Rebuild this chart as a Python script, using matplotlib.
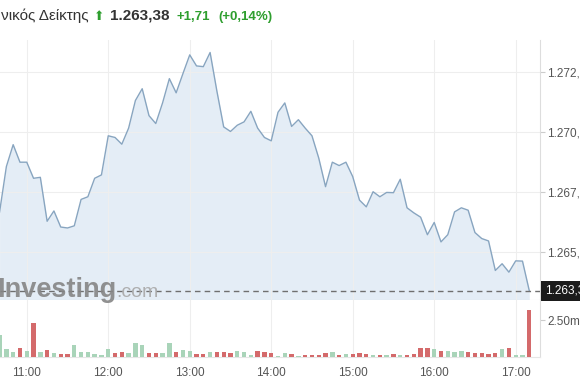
import matplotlib
matplotlib.use("Agg")
import matplotlib.pyplot as plt
import pandas as pd

plt.rcParams["font.family"] = ["Liberation Sans", "DejaVu Sans"]

# 5-minute bars, 10:40 .. 17:10
times = pd.date_range("2024-01-01 10:40", "2024-01-01 17:10", freq="5min")
prices = [1266.66, 1268.55, 1269.46, 1268.73, 1268.73, 1268.06, 1268.10, 1266.27,
          1266.70, 1266.03, 1265.99, 1266.08, 1267.18, 1267.29, 1268.06, 1268.20,
          1269.83, 1269.76, 1269.48, 1270.15, 1271.30, 1271.79, 1270.67, 1270.34,
          1271.20, 1272.21, 1271.62, 1272.42, 1273.20, 1272.74, 1272.71, 1273.30,
          1271.69, 1270.20, 1270.01, 1270.27, 1270.41, 1270.85, 1270.15, 1269.76,
          1269.62, 1270.81, 1271.20, 1270.22, 1270.50, 1270.15, 1269.83, 1268.90,
          1267.71, 1268.73, 1268.59, 1268.73, 1268.13, 1267.15, 1266.87, 1267.50,
          1267.29, 1267.47, 1267.46, 1268.02, 1266.83, 1266.62, 1266.44, 1265.71,
          1266.22, 1265.41, 1265.71, 1266.66, 1266.83, 1266.73, 1265.80, 1265.55,
          1265.45, 1264.22, 1264.50, 1264.15, 1264.62, 1264.61, 1263.38]
volumes = [1.48, 0.57, 0.34, 0.64, 0.41, 2.34, 0.34, 0.50, 0.30, 0.18, 0.23, 0.84,
           0.32, 0.34, 0.23, 0.16, 0.57, 0.27, 0.32, 0.30, 0.98, 0.84, 0.30, 0.30,
           0.30, 0.98, 0.34, 0.50, 0.41, 0.18, 0.23, 0.34, 0.34, 0.34, 0.30, 0.41,
           0.34, 0.16, 0.43, 0.34, 0.30, 0.09, 0.27, 0.18, 0.07, 0.16, 0.16, 0.16,
           0.30, 0.34, 0.11, 0.23, 0.18, 0.30, 0.23, 0.16, 0.11, 0.11, 0.23, 0.16,
           0.16, 0.18, 0.64, 0.64, 0.55, 0.41, 0.41, 0.34, 0.41, 0.34, 0.30, 0.30,
           0.23, 0.30, 0.55, 0.64, 0.16, 0.16, 3.23]   # millions
# bar colour per 5-min bar: g = up, r = down (one string per half hour)
vol_dir = ("gggr" "grgrgr"      # 10:40-11:25
           "rggggg" "grrggg"    # 11:30-12:25
           "rrggrg" "grrgrr"    # 12:30-13:25
           "rgggrr" "rggrgr"    # 13:30-14:25
           "rrrgrg" "rrrgrg"    # 14:30-15:25
           "rgrrrr" "grgggr"    # 15:30-16:25
           "rrrrgr" "ggr")      # 16:30-17:10

hour_ticks = [660, 720, 780, 840, 900, 960, 1020]
hour_labels = ["11:00", "12:00", "13:00", "14:00", "15:00", "16:00", "17:00"]
price_ticks = [1265.0, 1267.5, 1270.0, 1272.5]
vol_ticks = [2.5]
vol_tick_labels = ["2.50m"]

name = "νικός Δείκτης"
last_txt = "1.263,38"
chg_txt = "+1,71"
pct_txt = "(+0,14%)"

LINE = "#88a5c0"
FILL = "#e4edf6"
RED = "#d46a6b"
GREEN = "#a9d4b9"
GRID = "#eeeeee"
TXT = "#555555"


def gr(v, nd):   # Greek number format: 1.263,38
    s = f"{v:,.{nd}f}"
    return s.replace(",", "X").replace(".", ",").replace("X", ".")


x = times.hour * 60 + times.minute
W, H = 580, 390
fig = plt.figure(figsize=(W / 100, H / 100), dpi=100)

axP = fig.add_axes([0, 90 / H, 540 / W, 260 / H])
axV = fig.add_axes([0, 33 / H, 540 / W, 57 / H], sharex=axP)

ymin, ymax = 1262.99, 1273.82
axP.fill_between(x, prices, ymin, color=FILL, lw=0, zorder=1)
axP.plot(x, prices, color=LINE, lw=1.0, zorder=3)
axP.axhline(prices[-1], color="#6f6f6f", lw=1.0, ls=(0, (4, 3)), zorder=4)
axP.set_xlim(640.3, 1037.9)
axP.set_ylim(ymin, ymax)

axP.yaxis.tick_right()
axP.set_yticks(price_ticks)
axP.set_yticklabels([gr(v, 1) for v in price_ticks])
axP.tick_params(axis="y", length=3.5, width=0.8, color="#cccccc", labelsize=8.5,
                labelcolor=TXT, pad=1.5)
axP.tick_params(axis="x", length=0, labelbottom=False)
axP.set_xticks(hour_ticks)
axP.grid(True, color=GRID, lw=0.8, zorder=0)
for s in ("top", "left"):
    axP.spines[s].set_visible(False)
axP.spines["right"].set_color("#dddddd")
axP.spines["bottom"].set_color("#dddddd")

axP.annotate(last_txt, xy=(1.0, prices[-1]), xycoords=("axes fraction", "data"),
             xytext=(3.5, 0), textcoords="offset points", ha="left", va="center",
             fontsize=8.5, color="white", annotation_clip=False,
             bbox=dict(boxstyle="square,pad=0.35", fc="#1b1b1b", ec="none"))

colors = [GREEN if d == "g" else RED for d in vol_dir]
axV.bar(x, volumes, width=3.2, color=colors, zorder=3)
axV.set_ylim(0, 3.88)
axV.yaxis.tick_right()
axV.set_yticks(vol_ticks)
axV.set_yticklabels(vol_tick_labels)
axV.tick_params(axis="y", length=3.5, width=0.8, color="#cccccc", labelsize=8.5,
                labelcolor=TXT, pad=1.5)
axV.set_xticks(hour_ticks)
axV.set_xticklabels(hour_labels)
axV.tick_params(axis="x", length=0, labelsize=8.5, labelcolor=TXT, pad=7)
axV.grid(True, axis="x", color=GRID, lw=0.8, zorder=0)
for s in ("top", "left"):
    axV.spines[s].set_visible(False)
axV.spines["right"].set_color("#dddddd")
axV.spines["bottom"].set_color("#e6e6e6")

# header: name, arrow, last price, change
fig.canvas.draw()
rend = fig.canvas.get_renderer()


def put(xpx, text, **kw):
    t = fig.text(xpx / W, 1 - 20 / H, text, ha="left", va="baseline", **kw)
    return t.get_window_extent(rend).x1


xe = put(1, name, fontsize=11, color="#333333")
xe = put(xe + 5, "⬆", fontsize=9, color="#2e9e2e")
xe = put(xe + 6, last_txt, fontsize=11, color="#333333", weight="bold")
xe = put(xe + 7, chg_txt, fontsize=9.5, color="#2e9e2e", weight="bold")
put(xe + 8, pct_txt, fontsize=9.5, color="#2e9e2e", weight="bold")

# watermark
wm = fig.text(-3 / W, 1 - 297 / H, "Investing", ha="left", va="baseline",
              fontsize=19.5, weight="bold", color="#858585", alpha=0.9)
wx = wm.get_window_extent(rend).x1
fig.text(wx / W, 1 - 297 / H, ".com", ha="left", va="baseline",
         fontsize=14, color="#a8a8a8", alpha=0.9)

fig.savefig("out.png", dpi=100)
